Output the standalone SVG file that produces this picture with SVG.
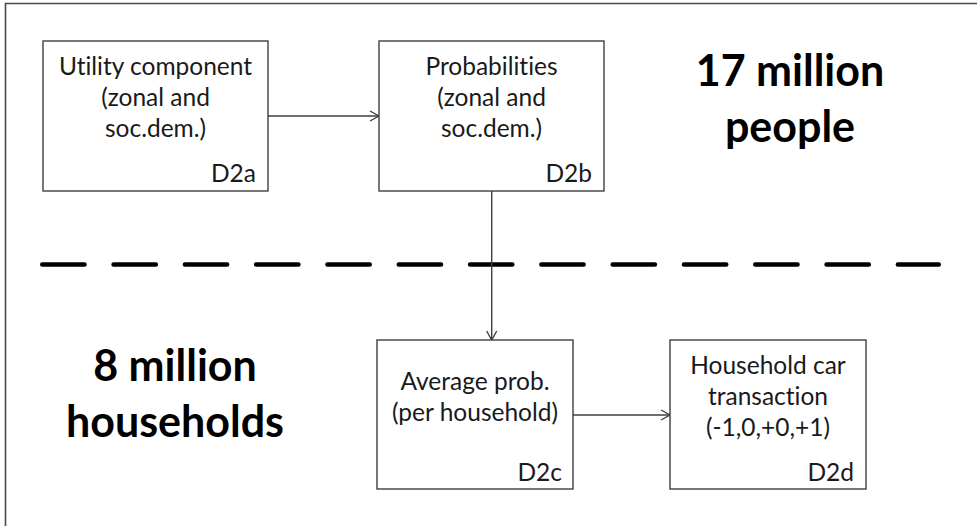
<svg xmlns="http://www.w3.org/2000/svg" width="977" height="526" viewBox="0 0 977 526">
  <style>
    text { font-variant-ligatures: none; font-feature-settings: "liga" 0, "dlig" 0; }
    .box { fill: #ffffff; stroke: #3f3f3f; stroke-width: 1.4; }
    .txt { font-family: Lato, "Liberation Sans", sans-serif; font-size: 24.5px; fill: #1a1a1a; text-anchor: middle; }
    .tag { font-family: Lato, "Liberation Sans", sans-serif; font-size: 24.5px; fill: #1a1a1a; text-anchor: end; }
    .big { font-family: Lato, "Liberation Sans", sans-serif; font-size: 43px; font-weight: bold; fill: #000000; text-anchor: middle; }
    .conn { fill: none; stroke: #3f3f3f; stroke-width: 1.4; }
  </style>
  <defs>
    <marker id="arrow" viewBox="0 0 10 12" refX="10" refY="6" markerWidth="10" markerHeight="12" markerUnits="userSpaceOnUse" orient="auto">
      <path d="M1,1 L10,6 L1,11" fill="none" stroke="#3f3f3f" stroke-width="1.4"/>
    </marker>
  </defs>

  <rect width="977" height="526" fill="#ffffff"/>

  <!-- outer frame (top and left edges) -->
  <path d="M5.5,526 L5.5,3.5 L977,3.5" fill="none" stroke="#4a4a4a" stroke-width="1.6"/>

  <!-- divider between people level and household level -->
  <line x1="42.3" y1="264.5" x2="938.7" y2="264.5" stroke="#000000" stroke-width="4.6" stroke-linecap="round" stroke-dasharray="42.2 29.1"/>

  <!-- level labels -->
  <g id="label-people">
    <text class="big" x="790" y="86">17 million</text>
    <text class="big" x="790" y="142">people</text>
  </g>
  <g id="label-households">
    <text class="big" x="175" y="381">8 million</text>
    <text class="big" x="175" y="437">households</text>
  </g>

  <g id="connectors">
    <line class="conn" x1="268" y1="116" x2="379" y2="116" marker-end="url(#arrow)"/>
    <line class="conn" x1="491.7" y1="191" x2="491.7" y2="340" marker-end="url(#arrow)"/>
    <line class="conn" x1="573" y1="415" x2="670" y2="415" marker-end="url(#arrow)"/>
  </g>

  <g id="D2a">
    <rect class="box" x="43" y="41" width="225" height="150"/>
    <text class="txt" x="155.5" y="75">Utility component</text>
    <text class="txt" x="155.5" y="106">(zonal and</text>
    <text class="txt" x="155.5" y="137">soc.dem.)</text>
    <text class="tag" x="256" y="182">D2a</text>
  </g>

  <g id="D2b">
    <rect class="box" x="379" y="41" width="225" height="150"/>
    <text class="txt" x="491.5" y="75">Probabilities</text>
    <text class="txt" x="491.5" y="106">(zonal and</text>
    <text class="txt" x="491.5" y="137">soc.dem.)</text>
    <text class="tag" x="592" y="182">D2b</text>
  </g>

  <g id="D2c">
    <rect class="box" x="377" y="340" width="196" height="149"/>
    <text class="txt" x="475" y="390">Average prob.</text>
    <text class="txt" x="475" y="421">(per household)</text>
    <text class="tag" x="562" y="481">D2c</text>
  </g>

  <g id="D2d">
    <rect class="box" x="670" y="340" width="196" height="149"/>
    <text class="txt" x="768" y="374">Household car</text>
    <text class="txt" x="768" y="405">transaction</text>
    <text class="txt" x="768" y="436">(-1,0,+0,+1)</text>
    <text class="tag" x="854" y="481">D2d</text>
  </g>
</svg>
